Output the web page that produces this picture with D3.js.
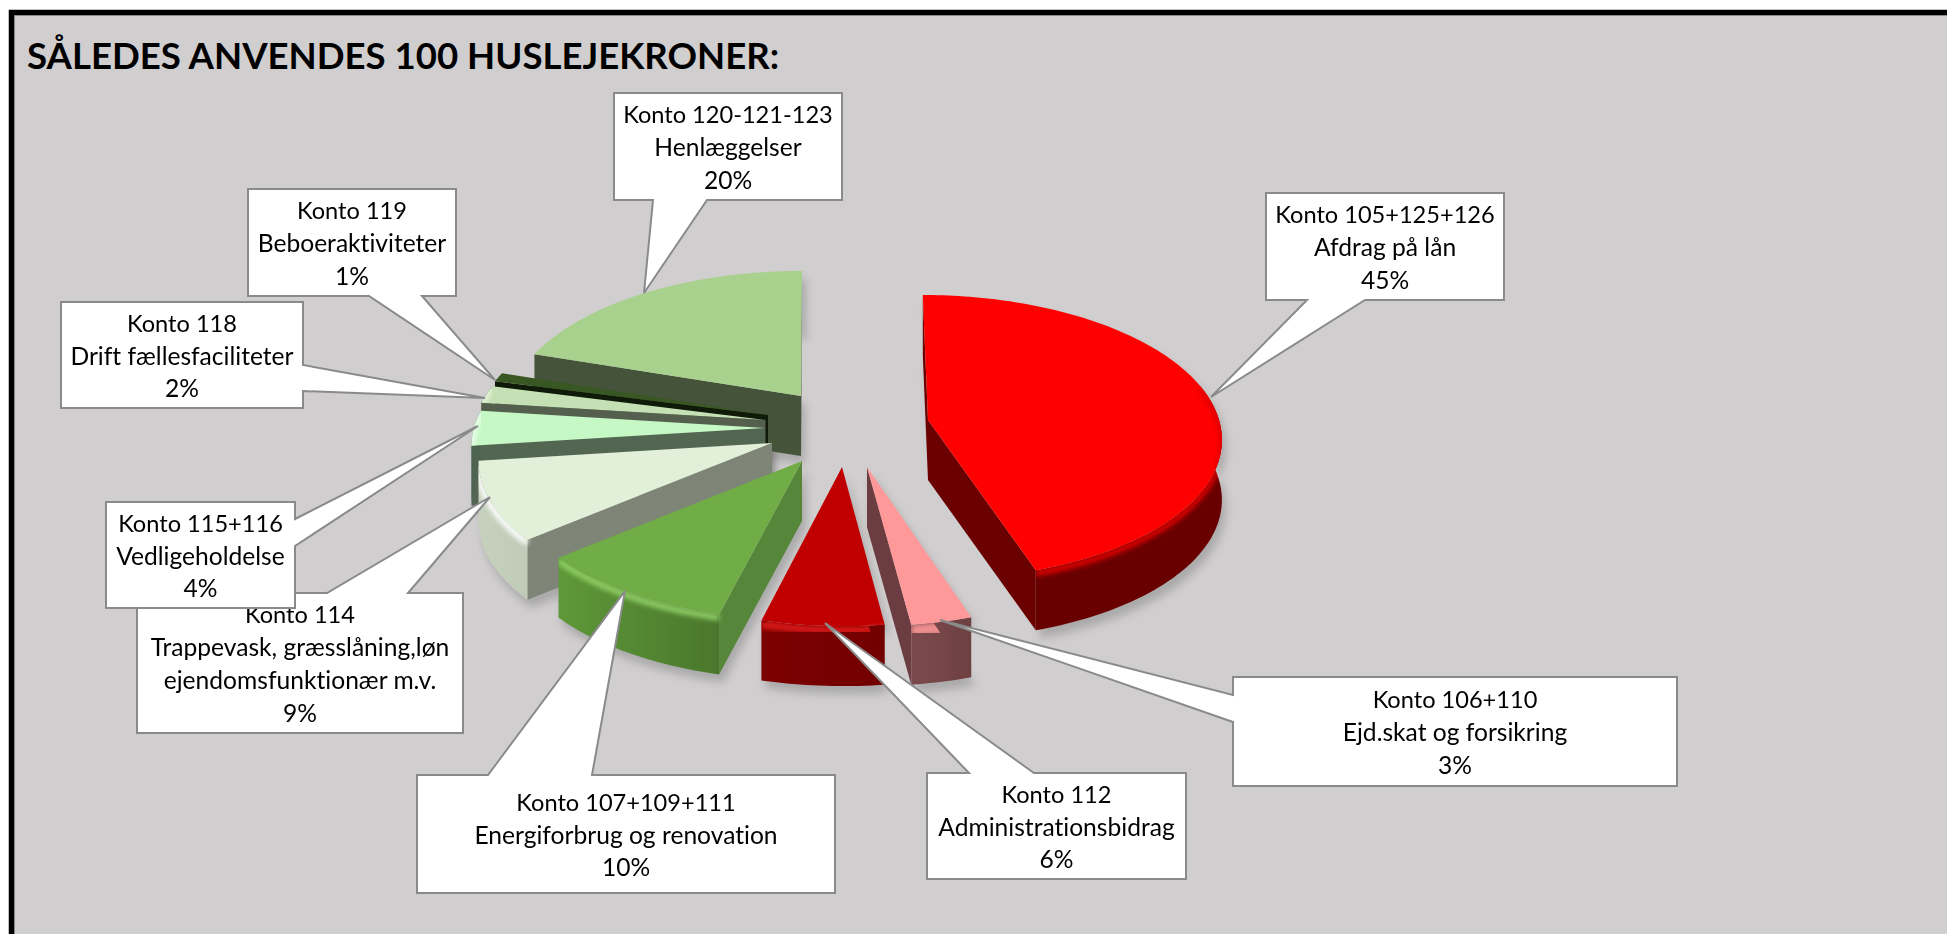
<!DOCTYPE html>
<html><head><meta charset="utf-8">
<script src="https://cdn.jsdelivr.net/npm/d3@7/dist/d3.min.js"></script>
<style>html,body{margin:0;padding:0;background:#fff;overflow:hidden}svg{display:block}text{font-variant-ligatures:none}</style>
</head><body><svg id="c" width="1947" height="934"></svg>
<script>
// ---- data ----
const titleText = "SÅLEDES ANVENDES 100 HUSLEJEKRONER:";
const accounts = ["Konto 105+125+126","Konto 106+110","Konto 112","Konto 107+109+111","Konto 114","Konto 115+116","Konto 118","Konto 119","Konto 120-121-123"];
const descriptions = [["Afdrag på lån"],["Ejd.skat og forsikring"],["Administrationsbidrag"],["Energiforbrug og renovation"],["Trappevask, græsslåning,løn","ejendomsfunktionær m.v."],["Vedligeholdelse"],["Drift fællesfaciliteter"],["Beboeraktiviteter"],["Henlæggelser"]];
const values = [45,3,6,10,9,4,2,1,20];

// ---- styles ----
const topColors  = ["#FF0000","#FF9999","#C00000","#70AD47","#E2EFD9","#C6F8C6","#C5E0B4","#385723","#A9D18E"];
const wallColors = ["#6A0000","#6B3D40","#6A0000","#55863A","#7E8476","#526651","#555F4E","#0F1A08","#44533A"];
const rimLeft    = ["#680000","#7C4A4C","#7C0000","#5E9838","#C6D2BE","#4F6450","#555F4E","#0F1A08","#44533A"];
const rimRight   = ["#680000","#6E4042","#720000","#4A772C","#BFCBB7","#4F6450","#555F4E","#0F1A08","#44533A"];
const glowColors = ["#E00000","#F09090","#D81818","#93D268","#FFFFFF","#F2FFF2","#E4F4DA","#47702C","#BFE0A8"];
const glowWidths = [6,12,8,6,6,5,5,4,4];

// ---- layout: pie projection, per-slice explosion (apex), callouts ----
const Rx = 291, Ry = 140, persp = 0.12, depth = 60, vanishX = 820, vanishWeight = 0.45;
const apexes = [[928,420],[867,467],[842,467],[802,461],[772,443],[765,428],[765.5,420],[768,415],[801,396]];
const boxes = [[1266,193,1504,300],[1233,677,1677,786],[927,773,1186,879],[417,775,835,893],[137,593,463,733],[106,502,295,608],[61,302,303,408],[248,189,456,296],[614,93,842,200]];
const pointerSides = ["bottom","left","top","top","top","right","right","bottom","bottom"];
const pointerBases = [[1307,1365],[695,722],[969,1034],[488,592],[327,408],[519,546],[365,391],[369,422],[653,707]];
const pointerTips = [[1211,397],[940,620],[825,623],[625,591],[490,497],[478,426],[485,398],[495,380],[644,293]];

const svg = d3.select("#c");
const defs = svg.append("defs");
const blur = (id,s)=>defs.append("filter").attr("id",id).attr("x","-30%").attr("y","-30%").attr("width","160%").attr("height","160%")
  .append("feGaussianBlur").attr("stdDeviation",s);
blur("sh",4.5); blur("gl",2.6);

// background + frame
svg.append("rect").attr("width",1947).attr("height",934).attr("fill","#fff");
svg.append("rect").attr("x",14).attr("y",15).attr("width",1940).attr("height",930).attr("fill","#D0CECE");
svg.append("path").attr("d","M11.5,940V12.5H1950").attr("fill","none").attr("stroke","#000").attr("stroke-width",5.5);
svg.append("path").attr("d","M14.5,940V15.5H1950").attr("fill","none").attr("stroke","#8a8a8a").attr("stroke-width",1);

svg.append("text").attr("x",27).attr("y",69).text(titleText)
  .attr("font-family","Lato").attr("font-weight",700).attr("font-size",36.6).attr("fill","#000");

const slices = d3.pie().sort(null).value(d=>d)(values);
const line = d3.line();
function project(th,r,ap,dz=0){
  const u=r*Math.sin(th), v=-r*Math.cos(th), s=1/(1-persp*v);
  return [ap[0]+Rx*u*s+(ap[0]-vanishX)*(s-1)*vanishWeight, ap[1]+Ry*v*s+dz];
}
function arcPts(a,b,ap,dz=0){
  const n=Math.max(2,Math.ceil((b-a)/0.02));
  return d3.range(n+1).map(i=>project(a+(b-a)*i/n,1,ap,dz));
}
const closed = pts=>line(pts)+"Z";

// order: back slices first
const drawOrder = [8,7,6,5,4,3,2,1,0];

// soft ground shadow
const shadow = svg.append("g").attr("filter","url(#sh)").attr("transform","translate(4,8)");
slices.forEach((s,i)=>{
  const ap=apexes[i], top=arcPts(s.startAngle,s.endAngle,ap), bot=arcPts(s.startAngle,s.endAngle,ap,depth).reverse();
  shadow.append("path").attr("d",closed([ap,...top,...bot,[ap[0],ap[1]+depth]])).attr("fill","#000").attr("opacity",0.18);
});

const pie = svg.append("g");
drawOrder.forEach(i=>{
  const s=slices[i], ap=apexes[i], g=pie.append("g");
  const mid=project((s.startAngle+s.endAngle)/2,0.7,ap);
  // cut walls facing the viewer
  [s.startAngle,s.endAngle].forEach(th=>{
    const R=project(th,1,ap), dx=R[0]-ap[0], dy=R[1]-ap[1];
    let nx=-dy, ny=dx;
    if(nx*(ap[0]-mid[0])+ny*(ap[1]-mid[1])<0){nx=-nx;ny=-ny;}
    if(ny>0) g.append("path").attr("d",closed([ap,R,[R[0],R[1]+depth],[ap[0],ap[1]+depth]])).attr("fill",wallColors[i]);
  });
  // outer rim (front half only)
  const lo=Math.max(s.startAngle,Math.PI*0.42), hi=Math.min(s.endAngle,Math.PI*1.58);
  const clipId="cl"+i;
  const top=arcPts(s.startAngle,s.endAngle,ap);
  defs.append("clipPath").attr("id",clipId).append("path").attr("d",closed([ap,...top,...arcPts(s.startAngle,s.endAngle,ap,depth).reverse(),[ap[0],ap[1]+depth]]));
  if(hi>lo){
    const gid="rim"+i;
    const gr=defs.append("linearGradient").attr("id",gid).attr("x1",0).attr("y1",0).attr("x2",1).attr("y2",0);
    gr.append("stop").attr("offset",0).attr("stop-color",rimLeft[i]);
    gr.append("stop").attr("offset",1).attr("stop-color",rimRight[i]);
    g.append("path").attr("d",closed([...arcPts(lo,hi,ap),...arcPts(lo,hi,ap,depth).reverse()])).attr("fill","url(#"+gid+")");
  }
  // top face
  g.append("path").attr("d",closed([ap,...top])).attr("fill",topColors[i]);
  // bevel along the rim's upper edge
  if(hi>lo){
    g.append("g").attr("clip-path","url(#"+clipId+")").append("path")
      .attr("d",line(arcPts(lo,hi,ap,glowWidths[i]/2))).attr("fill","none")
      .attr("stroke",glowColors[i]).attr("stroke-width",glowWidths[i]).attr("filter","url(#gl)");
  }
});

// callouts
const font="Lato";
slices.forEach((s,i)=>{
  const [x0,y0,x1,y1]=boxes[i], [a,b]=pointerBases[i], t=pointerTips[i], side=pointerSides[i];
  let pts;
  if(side==="top") pts=[[x0,y0],[a,y0],t,[b,y0],[x1,y0],[x1,y1],[x0,y1]];
  if(side==="bottom") pts=[[x0,y0],[x1,y0],[x1,y1],[b,y1],t,[a,y1],[x0,y1]];
  if(side==="left") pts=[[x0,y0],[x1,y0],[x1,y1],[x0,y1],[x0,b],t,[x0,a]];
  if(side==="right") pts=[[x0,y0],[x1,y0],[x1,a],t,[x1,b],[x1,y1],[x0,y1]];
  const g=svg.append("g");
  g.append("path").attr("d",closed(pts)).attr("fill","#fff").attr("stroke","#8a8a8a").attr("stroke-width",2).attr("stroke-linejoin","miter");
  const lines=[accounts[i],...descriptions[i],d3.format(".0%")(s.value/100)];
  const cy=(y0+y1)/2+1, lh=32.7;
  lines.forEach((l,k)=>g.append("text").attr("x",(x0+x1)/2).attr("y",cy+(k-(lines.length-1)/2)*lh)
    .attr("dy","0.35em").attr("text-anchor","middle").attr("font-family",font).attr("font-size",k===0?23.6:24.6).attr("fill","#000").text(l));
});
</script></body></html>
